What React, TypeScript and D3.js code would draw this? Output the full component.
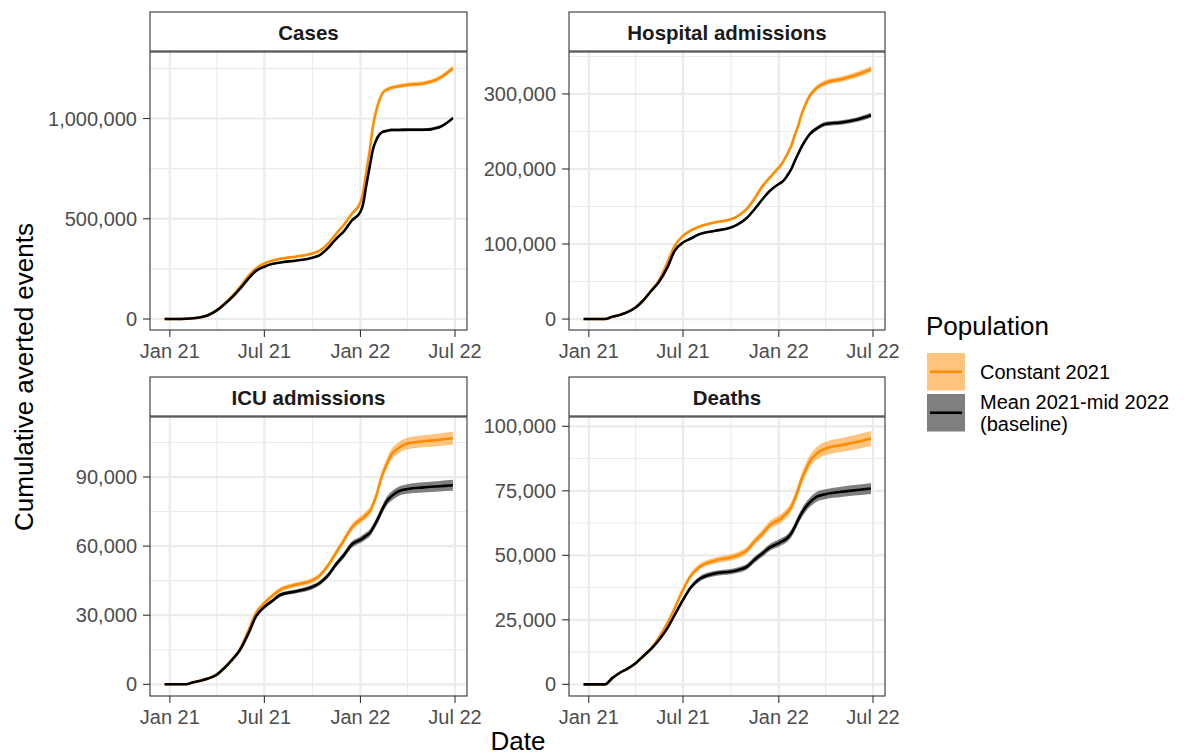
import * as d3 from "d3";

// dates sampled along the curves
const dates = [
  "2020-12-22", "2021-01-15", "2021-02-01", "2021-02-15", "2021-03-01", "2021-03-15",
  "2021-04-01", "2021-04-15", "2021-05-01", "2021-05-15", "2021-06-01", "2021-06-15",
  "2021-07-01", "2021-07-15", "2021-08-01", "2021-09-01", "2021-10-01", "2021-10-15",
  "2021-11-01", "2021-11-15", "2021-12-01", "2021-12-15", "2022-01-01", "2022-01-06",
  "2022-01-12", "2022-01-19", "2022-01-25", "2022-02-01", "2022-02-07", "2022-02-13",
  "2022-02-20", "2022-03-01", "2022-03-15", "2022-04-01", "2022-05-01", "2022-06-01",
  "2022-06-27",
];

const populations = ["Constant 2021", "Mean 2021-mid 2022\n(baseline)"];
const panelTitles = ["Cases", "Hospital admissions", "ICU admissions", "Deaths"];

// Cases
const casesConstant = [0, 0, 1500, 4000, 9000, 20000, 45000, 75000, 116000, 158000, 216000, 252000, 277000, 291000, 301000, 312000, 327000, 341000, 379000, 424000, 473000, 523000, 582000, 630000, 730000, 846000, 963000, 1047000, 1096000, 1130000, 1143000, 1153000, 1161000, 1168000, 1175000, 1201000, 1251000];
const casesConstantBand = [0, 0, 200, 500, 1000, 1500, 2000, 2500, 3000, 3500, 4000, 4000, 4000, 4000, 4000, 4000, 4500, 4500, 5000, 5000, 5500, 6000, 6000, 6500, 7000, 7500, 8000, 8500, 9000, 9000, 9500, 9500, 10000, 10000, 10500, 11000, 12000];
const casesMean = [0, 0, 1500, 4000, 9000, 19000, 43000, 72000, 110000, 150000, 203000, 240000, 261000, 274000, 282000, 292000, 306000, 319000, 357000, 399000, 440000, 490000, 535000, 573000, 664000, 764000, 847000, 897000, 922000, 934000, 938000, 943000, 943000, 944000, 944000, 957000, 1002000];
const casesMeanBand = [0, 0, 200, 500, 1000, 1500, 2000, 2500, 2500, 3000, 3000, 3000, 3000, 3000, 3000, 3000, 3500, 3500, 3500, 4000, 4000, 4500, 4500, 5000, 5000, 5500, 6000, 6000, 6500, 6500, 6500, 7000, 7000, 7000, 7500, 8000, 8500];

// Hospital admissions
const hospConstant = [0, 0, 0, 3000, 5300, 8900, 15500, 24400, 37700, 50500, 75400, 97600, 111000, 117600, 123000, 129000, 133000, 137600, 147000, 160000, 177500, 188600, 202000, 206000, 213000, 222000, 231000, 246000, 257000, 271000, 284000, 297000, 308000, 315000, 319500, 326000, 333000];
const hospConstantBand = [0, 0, 0, 200, 300, 500, 600, 800, 1000, 1200, 1500, 1500, 1500, 1500, 1500, 1500, 1700, 1700, 1800, 2000, 2000, 2200, 2200, 2300, 2400, 2500, 2600, 2800, 3000, 3000, 3200, 3300, 3500, 3500, 3700, 3800, 4000];
const hospMean = [0, 0, 0, 3000, 5300, 8900, 15500, 24400, 37700, 48800, 68800, 91000, 102000, 107000, 113000, 117600, 122000, 126500, 135000, 146000, 160000, 171000, 180000, 182000, 186000, 193000, 200000, 211000, 220000, 228500, 237000, 246000, 254000, 260000, 262000, 266000, 271600];
const hospMeanBand = [0, 0, 0, 200, 300, 400, 500, 700, 800, 1000, 1200, 1200, 1200, 1200, 1200, 1300, 1300, 1400, 1500, 1500, 1700, 1800, 1800, 1900, 2000, 2100, 2200, 2300, 2400, 2500, 2600, 2700, 2800, 2800, 2900, 3000, 3200];

// ICU admissions
const icuConstant = [0, 0, 0, 900, 1600, 2500, 4200, 7100, 11000, 15200, 23700, 31000, 35300, 38200, 41100, 43300, 45100, 47200, 52000, 57000, 62800, 67900, 71500, 72200, 73600, 75100, 78000, 82300, 87400, 91700, 95400, 99700, 102600, 104500, 105500, 106200, 106800];
const icuConstantBand = [0, 0, 0, 50, 100, 150, 200, 300, 400, 500, 700, 800, 900, 900, 1000, 1000, 1100, 1100, 1200, 1300, 1400, 1500, 1600, 1600, 1700, 1700, 1800, 1900, 2000, 2100, 2200, 2300, 2400, 2500, 2600, 2700, 2800];
const icuMean = [0, 0, 0, 900, 1600, 2500, 4200, 7000, 10800, 14800, 22300, 29500, 33600, 36000, 38900, 40400, 42300, 44000, 47600, 52000, 56300, 60600, 62800, 63500, 64500, 65700, 67900, 70800, 73600, 76500, 79400, 81600, 83800, 84800, 85500, 86000, 86400];
const icuMeanBand = [0, 0, 0, 50, 100, 150, 200, 250, 350, 450, 600, 700, 800, 800, 900, 900, 1000, 1000, 1100, 1200, 1300, 1400, 1400, 1500, 1500, 1500, 1600, 1700, 1800, 1800, 1900, 2000, 2000, 2100, 2200, 2300, 2400];

// Deaths
const deathsConstant = [0, 0, 0, 2400, 4400, 5900, 8200, 10800, 14000, 17900, 23700, 29500, 36600, 41800, 45400, 48000, 49200, 50100, 52000, 55300, 58500, 61700, 63700, 64300, 65600, 66900, 68800, 72000, 75300, 79100, 82400, 86200, 89500, 91400, 92700, 94000, 95300];
const deathsConstantBand = [0, 0, 0, 100, 150, 200, 300, 400, 500, 600, 800, 900, 1000, 1100, 1100, 1200, 1200, 1300, 1300, 1400, 1500, 1600, 1700, 1700, 1800, 1800, 1900, 2000, 2100, 2200, 2300, 2400, 2500, 2600, 2700, 2800, 2900];
const deathsMean = [0, 0, 0, 2400, 4400, 5900, 8200, 10800, 13800, 17000, 21800, 26900, 32700, 37300, 40700, 43000, 43700, 44300, 45600, 48200, 50800, 53100, 54700, 55300, 55900, 57000, 58500, 61100, 63700, 66000, 68200, 70400, 72700, 73700, 74600, 75300, 75900];
const deathsMeanBand = [0, 0, 0, 100, 150, 200, 250, 350, 450, 500, 700, 800, 900, 900, 1000, 1000, 1000, 1100, 1100, 1200, 1300, 1300, 1400, 1400, 1400, 1500, 1500, 1600, 1700, 1700, 1800, 1800, 1900, 1900, 2000, 2000, 2100];

// axis breaks
const xTicks = ["2021-01-01", "2021-07-01", "2022-01-01", "2022-07-01"];
const xMinor = ["2021-04-01", "2021-10-01", "2022-04-01"];
const casesTicks = [0, 500000, 1000000];
const hospTicks = [0, 100000, 200000, 300000];
const icuTicks = [0, 30000, 60000, 90000];
const deathsTicks = [0, 25000, 50000, 75000, 100000];

const W = 1185;
const H = 755;
const FONT = "'Liberation Sans', Arial, Helvetica, sans-serif";
const ORANGE = "#ff8c00";
const colors = [ORANGE, "#000000"];

const parse = d3.timeParse("%Y-%m-%d");
const xDates = dates.map((d) => parse(d)!);
const fmtDate = d3.timeFormat("%b %y");
const fmtNum = d3.format(",");

const panels = [
  { title: panelTitles[0], series: [[casesConstant, casesConstantBand], [casesMean, casesMeanBand]], ticks: casesTicks, domain: [-54800, 1331800], col: 0, row: 0 },
  { title: panelTitles[1], series: [[hospConstant, hospConstantBand], [hospMean, hospMeanBand]], ticks: hospTicks, domain: [-14600, 355900], col: 1, row: 0 },
  { title: panelTitles[2], series: [[icuConstant, icuConstantBand], [icuMean, icuMeanBand]], ticks: icuTicks, domain: [-5070, 116050], col: 0, row: 1 },
  { title: panelTitles[3], series: [[deathsConstant, deathsConstantBand], [deathsMean, deathsMeanBand]], ticks: deathsTicks, domain: [-4520, 103600], col: 1, row: 1 },
];

const colX = [[150, 467], [569, 885]];
const rowY = [[12, 52, 330], [377, 417, 696]]; // strip top, plot top, plot bottom

function Panel({ p }: { p: (typeof panels)[number] }) {
  const [x0, x1] = colX[p.col];
  const [sTop, top, bottom] = rowY[p.row];
  const x = d3.scaleTime().domain([parse("2020-11-24")!, parse("2022-07-24")!]).range([x0, x1]);
  const y = d3.scaleLinear().domain(p.domain).range([bottom, top]);
  const step = p.ticks[1] - p.ticks[0];
  const minor = p.ticks.map((t) => t + step / 2).filter((v) => v < p.domain[1]);

  const line = d3
    .line<number>()
    .x((_, i) => x(xDates[i]))
    .y((d) => y(d))
    .curve(d3.curveMonotoneX);

  return (
    <g>
      <rect x={x0} y={top} width={x1 - x0} height={bottom - top} fill="#fff" />
      {minor.map((v) => (
        <line key={"ym" + v} x1={x0} x2={x1} y1={y(v)} y2={y(v)} stroke="#ebebeb" strokeWidth={1.1} />
      ))}
      {xMinor.map((d) => (
        <line key={"xm" + d} x1={x(parse(d)!)} x2={x(parse(d)!)} y1={top} y2={bottom} stroke="#ebebeb" strokeWidth={1.1} />
      ))}
      {p.ticks.map((v) => (
        <line key={"yg" + v} x1={x0} x2={x1} y1={y(v)} y2={y(v)} stroke="#ebebeb" strokeWidth={2.2} />
      ))}
      {xTicks.map((d) => (
        <line key={"xg" + d} x1={x(parse(d)!)} x2={x(parse(d)!)} y1={top} y2={bottom} stroke="#ebebeb" strokeWidth={2.2} />
      ))}
      {p.series.map(([vals, band], si) => {
        const area = d3
          .area<number>()
          .x((_, i) => x(xDates[i]))
          .y0((d, i) => y(d - band[i]))
          .y1((d, i) => y(d + band[i]))
          .curve(d3.curveMonotoneX);
        return <path key={"r" + si} d={area(vals) || ""} fill={colors[si]} fillOpacity={0.5} />;
      })}
      {p.series.map(([vals], si) => (
        <path key={"l" + si} d={line(vals) || ""} fill="none" stroke={colors[si]} strokeWidth={2.6} strokeLinejoin="round" />
      ))}
      <rect x={x0} y={top} width={x1 - x0} height={bottom - top} fill="none" stroke="#333333" strokeWidth={1.1} />
      {/* strip */}
      <rect x={x0} y={sTop} width={x1 - x0} height={top - sTop - 1} fill="#fff" stroke="#333333" strokeWidth={1.1} />
      <text x={(x0 + x1) / 2} y={(sTop + top) / 2 + 7.5} textAnchor="middle" fontWeight="bold" fontSize={20.5} fill="#1a1a1a">
        {p.title}
      </text>
      {/* y axis */}
      {p.ticks.map((v) => (
        <g key={"yt" + v}>
          <line x1={x0 - 7} x2={x0} y1={y(v)} y2={y(v)} stroke="#333333" strokeWidth={1.1} />
          <text x={x0 - 13} y={y(v) + 7} textAnchor="end" fontSize={20} fill="#4d4d4d">
            {fmtNum(v)}
          </text>
        </g>
      ))}
      {/* x axis */}
      {xTicks.map((d) => (
        <g key={"xt" + d}>
          <line x1={x(parse(d)!)} x2={x(parse(d)!)} y1={bottom} y2={bottom + 7} stroke="#333333" strokeWidth={1.1} />
          <text x={x(parse(d)!)} y={bottom + 27.5} textAnchor="middle" fontSize={20} fill="#4d4d4d">
            {fmtDate(parse(d)!)}
          </text>
        </g>
      ))}
    </g>
  );
}

function Legend() {
  const kx = 927;
  const keyTops = [353, 394];
  const kw = 38;
  const kh = 37.5;
  return (
    <g>
      <text x={926} y={335} fontSize={26} fill="#000">
        Population
      </text>
      {populations.map((name, i) => {
        const lines = name.split("\n");
        const cy = keyTops[i] + kh / 2;
        const lh = 22;
        const firstBase = cy + 7 - ((lines.length - 1) * lh) / 2;
        return (
          <g key={name}>
            <rect x={kx} y={keyTops[i]} width={kw} height={kh} fill={colors[i]} fillOpacity={0.5} />
            <line x1={kx + 3} x2={kx + kw - 3} y1={cy} y2={cy} stroke={colors[i]} strokeWidth={2.6} />
            {lines.map((l, j) => (
              <text key={j} x={980} y={firstBase + j * lh} fontSize={20} fill="#000">
                {l}
              </text>
            ))}
          </g>
        );
      })}
    </g>
  );
}

export default function App() {
  return (
    <div style={{ position: "absolute", left: 0, top: 0 }}>
      <svg width={W} height={H} style={{ display: "block", fontFamily: FONT, background: "#fff" }}>
        <rect width={W} height={H} fill="#fff" />
        {panels.map((p) => (
          <Panel key={p.title} p={p} />
        ))}
        <text x={518} y={750} textAnchor="middle" fontSize={26} fill="#000">
          Date
        </text>
        <text transform="translate(33,377) rotate(-90)" textAnchor="middle" fontSize={26} fill="#000">
          Cumulative averted events
        </text>
        <Legend />
      </svg>
    </div>
  );
}
